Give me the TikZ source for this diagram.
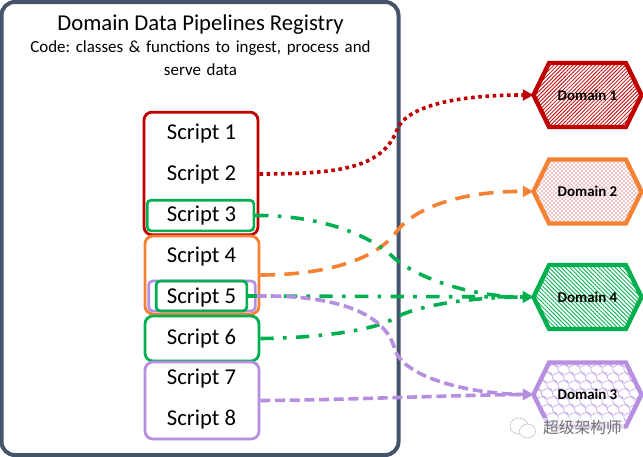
\documentclass[tikz,border=0pt]{standalone}
\usepackage{fontspec}
\setmainfont{Carlito}
\newfontfamily\cjkwm{Noto Sans CJK SC}
\usetikzlibrary{arrows.meta,patterns,patterns.meta,shapes.symbols}
\definecolor{panelc}{HTML}{44546A}
\definecolor{redc}{HTML}{C00000}
\definecolor{orangeb}{HTML}{F58233}
\definecolor{greenc}{HTML}{00B050}
\definecolor{purplec}{HTML}{B78FE0}
\tikzset{
  panel/.style={draw=panelc,line width=3pt,rounded corners=10pt,fill=white},
  groupbox/.style={line width=2.1pt,rounded corners=6pt},
  scripttext/.style={font=\fontsize{17}{19}\selectfont,inner sep=0pt,text=black},
  hexa/.style={signal,signal to=east and west,signal pointer angle=128,line width=3.3pt,
    minimum width=81pt,minimum height=48pt,inner sep=0pt,outer sep=0pt,font=\fontsize{11.2}{12}\selectfont\bfseries,text=black},
  conn/.style={line width=2.7pt,-{Triangle[length=8pt,width=8pt]}},
  dotc/.style={conn,draw=redc,dash pattern=on 2.7pt off 2.7pt},
  dashc/.style={conn,draw=orangeb,dash pattern=on 11pt off 7pt},
  dashdotc/.style={conn,draw=greenc,dash pattern=on 10pt off 7pt on 2.7pt off 7pt},
  purc/.style={conn,draw=purplec,dash pattern=on 7.5pt off 3.5pt},
}
\begin{document}
\frenchspacing
\begin{tikzpicture}[x=0.75pt,y=-0.75pt]
\useasboundingbox (0,0) rectangle (643,457);
\fill[white] (0,0) rectangle (643,457);
\node[panel,minimum width=297.75pt,minimum height=339.75pt,inner sep=0pt] (registry) at (200,228.5) {};
\node[inner sep=0pt,font=\fontsize{17}{20}\selectfont] (title) at (200.5,25) {Domain Data Pipelines Registry};
\node[inner sep=0pt,font=\fontsize{12.7}{16}\selectfont,align=center,text width=290pt] (sub) at (200.5,58.5) {Code: classes \& functions to ingest, process and\\[1pt]serve data};
% group boxes
\node[groupbox,draw=redc,minimum width=85.5pt,minimum height=92pt,inner sep=0pt] (g1) at (201,173.5) {};
\node[groupbox,draw=orangeb,minimum width=85.5pt,minimum height=58.5pt,inner sep=0pt] (g2) at (202,275) {};
\node[groupbox,draw=greenc,minimum width=85.5pt,minimum height=33.75pt,inner sep=0pt] (g3) at (202,338.5) {};
\node[groupbox,draw=purplec,minimum width=85.5pt,minimum height=57.75pt,inner sep=0pt] (g4) at (202,400.5) {};
\node[draw=greenc,line width=2pt,rounded corners=3pt,minimum width=80pt,minimum height=23pt,inner sep=0pt] (b3) at (200.5,215.5) {};
\node[draw=purplec,line width=2pt,rounded corners=3pt,minimum width=80pt,minimum height=22.5pt,inner sep=0pt] (b5p) at (202,296) {};
\node[draw=greenc,line width=2pt,rounded corners=3pt,minimum width=68pt,minimum height=22.5pt,inner sep=0pt] (b5g) at (201.5,296) {};
\foreach \n/\y in {1/134,2/175,3/216,4/257,5/297.5,6/339,7/379,8/420}
  \node[scripttext] (s\n) at (201.5,\y) {Script \n};
% domains
\node[hexa,draw=redc,pattern={Lines[angle=45,distance=2pt,line width=0.6pt]},pattern color=redc] (d1) at (587.5,95) {Domain 1};
\node[hexa,draw=orangeb,pattern=crosshatch dots,pattern color=redc] (d2) at (587.5,191.5) {Domain 2};
\node[hexa,draw=greenc,pattern={Lines[angle=-45,distance=2.2pt,line width=0.65pt]},pattern color=greenc] (d4) at (587.5,297) {Domain 4};
\node[hexa,draw=purplec,path picture={
   \foreach \i in {-8,...,8}
     \foreach \j in {-6,...,6}{
       \draw[purplec!80!white,line width=0.5pt] (\i*11+\j*5.5,\j*8) .. controls +(3,-4) and +(5,-3) .. +(9,-1);
       \draw[purplec!80!white,line width=0.5pt] (\i*11+\j*5.5,\j*8) .. controls +(-1,4) and +(2,4) .. +(5,6);
     }
 }] (d3) at (587.5,394.5) {Domain 3};
% connectors
\draw[dotc] (g1.east) ++(0,0.5) .. controls (340,174) and (382,168) .. (397,130) .. controls (405,108) and (450,95) .. (d1.west);
\draw[dashc] (g2.east) .. controls (320,275) and (375,262) .. (397,231) .. controls (415,208) and (460,191) .. (d2.west);
\draw[dashdotc] (b3.east) .. controls (320,215) and (370,235) .. (393,257) .. controls (415,277) and (470,297) .. (d4.west);
\draw[dashdotc] (b5g.east) -- (d4.west);
\draw[dashdotc] (g3.east) .. controls (320,338) and (375,330) .. (395,318) .. controls (415,306) and (470,297) .. (d4.west);
\draw[purc] (b5p.east) .. controls (330,295) and (385,310) .. (395,350) .. controls (405,378) and (470,394) .. (d3.west);
\draw[purc] (g4.east) .. controls (350,400) and (450,395) .. (d3.west);
% watermark
\node[inner sep=1.5pt,fill=white,fill opacity=.65,text opacity=1,text=gray!90!black,font=\cjkwm\fontsize{11.8}{13}\selectfont] (wm) at (582.5,427.5) {超级架构师};
\draw[gray!60,line width=0.5pt,dash pattern=on 1.5pt off 0.7pt,fill=white] (519,426) ellipse (9 and 8);
\draw[gray!60,line width=0.5pt,dash pattern=on 1.5pt off 0.7pt,fill=white] (527.5,431) ellipse (8 and 7);
\end{tikzpicture}
\end{document}
